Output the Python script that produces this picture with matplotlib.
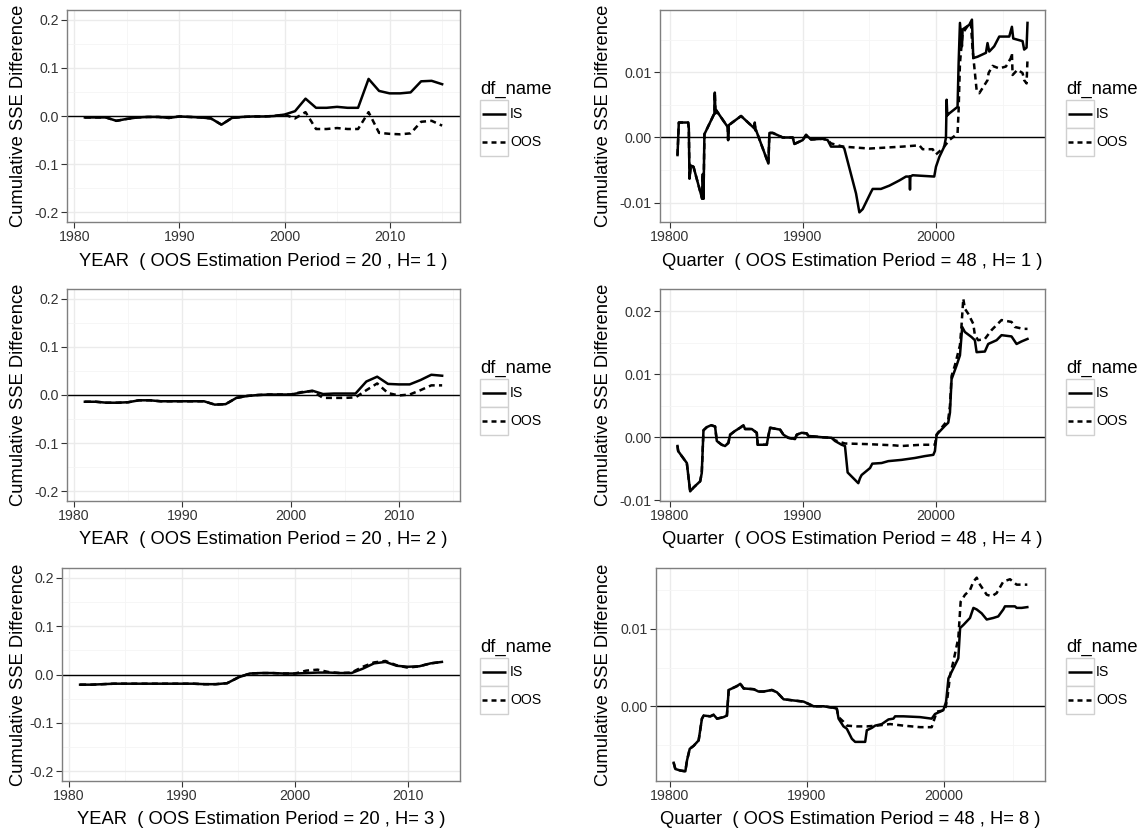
import matplotlib
matplotlib.use("Agg")
import matplotlib.pyplot as plt
from matplotlib.lines import Line2D
from matplotlib.patches import Rectangle
from matplotlib.ticker import MultipleLocator, FormatStrFormatter

plt.rcParams['font.family'] = ['Liberation Sans', 'DejaVu Sans']
plt.rcParams['axes.unicode_minus'] = False

W, H, DPI = 1143, 833, 100

series_names = ["IS", "OOS"]
legend_title = "df_name"
y_title = "Cumulative SSE Difference"

# ---- annual models (OOS estimation period = 20) ----
years_h1 = list(range(1981, 2016))
is_h1 = [-0.003, -0.003, -0.003, -0.010, -0.006, -0.003, -0.002, -0.002, -0.004, -0.001,
         -0.002, -0.003, -0.005, -0.018, -0.004, -0.002, -0.001, -0.001, 0.000, 0.003,
         0.010, 0.036, 0.017, 0.017, 0.019, 0.017, 0.017, 0.077, 0.052, 0.047,
         0.047, 0.049, 0.072, 0.073, 0.066]
oos_h1 = [-0.003, -0.003, -0.003, -0.010, -0.006, -0.003, -0.002, -0.002, -0.004, -0.001,
          -0.002, -0.003, -0.005, -0.018, -0.004, -0.002, -0.001, -0.001, 0.000, 0.003,
          -0.005, 0.008, -0.027, -0.027, -0.025, -0.027, -0.027, 0.008, -0.035, -0.037,
          -0.038, -0.036, -0.012, -0.010, -0.020]

years_h2 = list(range(1981, 2015))
is_h2 = [-0.014, -0.014, -0.016, -0.016, -0.015, -0.011, -0.011, -0.013, -0.013, -0.013,
         -0.013, -0.013, -0.020, -0.019, -0.006, -0.002, 0.000, 0.001, 0.001, 0.001,
         0.005, 0.009, 0.002, 0.003, 0.003, 0.003, 0.028, 0.038, 0.023, 0.022,
         0.022, 0.031, 0.042, 0.040]
oos_h2 = [-0.014, -0.014, -0.016, -0.016, -0.015, -0.011, -0.011, -0.013, -0.013, -0.013,
          -0.013, -0.013, -0.020, -0.019, -0.006, -0.002, 0.000, 0.001, 0.001, 0.001,
          0.006, 0.008, -0.006, -0.006, -0.006, -0.005, 0.010, 0.024, 0.004, -0.001,
          0.001, 0.010, 0.020, 0.020]

years_h3 = list(range(1981, 2014))
is_h3 = [-0.021, -0.021, -0.020, -0.019, -0.019, -0.019, -0.019, -0.019, -0.019, -0.019,
         -0.019, -0.020, -0.020, -0.018, -0.006, 0.002, 0.003, 0.003, 0.002, 0.002,
         0.003, 0.004, 0.004, 0.003, 0.003, 0.012, 0.023, 0.026, 0.018, 0.016,
         0.017, 0.023, 0.026]
oos_h3 = [-0.021, -0.021, -0.020, -0.019, -0.019, -0.019, -0.019, -0.019, -0.019, -0.019,
          -0.019, -0.020, -0.020, -0.018, -0.006, 0.002, 0.003, 0.003, 0.002, 0.002,
          0.008, 0.010, 0.005, 0.003, 0.004, 0.016, 0.025, 0.028, 0.019, 0.014,
          0.017, 0.023, 0.026]

# ---- quarterly models (OOS estimation period = 48), (quarter code, value) ----
q1_is = [(19806, -0.0027), (19807, 0.0023), (19814, 0.0023), (19814.5, 0.0014), (19815, -0.0063),
         (19816, -0.0043), (19818, -0.0045), (19824.5, -0.0094), (19825, -0.0056), (19825.5, -0.0094),
         (19826.2, 0.0005), (19833.7, 0.0037), (19834, 0.0069), (19834.5, 0.0037), (19835, 0.0042),
         (19843.7, 0.0016), (19844, -0.0004), (19844.5, 0.0019), (19853.7, 0.0033), (19863.7, 0.0014),
         (19864, 0.0023), (19864.5, 0.0011), (19865, 0.0011), (19874.2, -0.0040), (19875, 0.0007),
         (19877.5, 0.0007), (19885, 0.0), (19892.5, 0.0), (19893.7, -0.0010), (19900, -0.0004),
         (19902.5, 0.0004), (19906.2, -0.0003), (19915, -0.0002), (19918.7, -0.0004), (19921.2, -0.0014),
         (19930, -0.0014), (19931.2, -0.0017), (19940, -0.0086), (19942.5, -0.0115), (19945, -0.0110),
         (19951.2, -0.0084), (19952.5, -0.0079), (19958.7, -0.0079), (19965, -0.0074), (19972.5, -0.0066),
         (19977.5, -0.0060), (19980.2, -0.0060), (19980.5, -0.0080), (19980.8, -0.0060), (19982.5, -0.0058),
         (19998.7, -0.0060), (20000, -0.0045), (20002.5, -0.0030), (20006.2, -0.0014), (20007.5, 0.0),
         (20008, 0.0058), (20008.5, 0.0034), (20010, 0.0037), (20016.2, 0.0047), (20017, 0.0114),
         (20018, 0.0176), (20019.5, 0.0140), (20020, 0.0166), (20025, 0.0173), (20027, 0.0181),
         (20027.5, 0.0150), (20028, 0.0122), (20031.2, 0.0124), (20037.5, 0.0130), (20038.7, 0.0145),
         (20040, 0.0132), (20043.7, 0.0140), (20047.5, 0.0155), (20055, 0.0155), (20057, 0.0170),
         (20058, 0.0152), (20065, 0.0148), (20066.2, 0.0135), (20068, 0.0138), (20068.7, 0.0176)]
q1_oos = [(19806, -0.0027), (19807, 0.0023), (19814, 0.0023), (19814.5, 0.0014), (19815, -0.0063),
          (19816, -0.0043), (19818, -0.0045), (19824.5, -0.0094), (19825, -0.0056), (19825.5, -0.0094),
          (19826.2, 0.0005), (19833.7, 0.0037), (19834, 0.0069), (19834.5, 0.0037), (19835, 0.0042),
          (19843.7, 0.0016), (19844, -0.0004), (19844.5, 0.0019), (19853.7, 0.0033), (19863.7, 0.0014),
          (19864, 0.0023), (19864.5, 0.0011), (19865, 0.0011), (19874.2, -0.0040), (19875, 0.0007),
          (19877.5, 0.0007), (19885, 0.0), (19892.5, 0.0), (19893.7, -0.0010), (19900, -0.0004),
          (19902.5, 0.0004), (19906.2, -0.0003), (19915, -0.0002), (19918.7, -0.0004), (19921.2, -0.0009),
          (19930, -0.0014), (19950, -0.0017), (19975, -0.0014), (19987.5, -0.0012), (19990, -0.0018),
          (19997.5, -0.0018), (20000, -0.0026), (20005, -0.0017), (20010, -0.0004), (20016.2, 0.0006),
          (20017, 0.0042), (20018, 0.0114), (20020, 0.0160), (20023.7, 0.0171), (20026.2, 0.0176),
          (20027.5, 0.0135), (20028.7, 0.0110), (20030.5, 0.0073), (20032.5, 0.0068), (20035, 0.0076),
          (20038.7, 0.0088), (20039.5, 0.0099), (20042.5, 0.0110), (20047.5, 0.0106), (20052.5, 0.0109),
          (20056.2, 0.0122), (20057, 0.0130), (20057.5, 0.0096), (20061.2, 0.0104), (20065, 0.0099),
          (20066.2, 0.0088), (20068, 0.0083), (20068.7, 0.0120)]

q4_is = [(19806, -0.0014), (19806.5, -0.0022), (19809.2, -0.0030), (19813, -0.0041), (19815.5, -0.0086),
         (19818, -0.0080), (19823, -0.0070), (19824.2, -0.0057), (19825.5, 0.0011), (19828, 0.0016),
         (19831.2, 0.0019), (19834.2, 0.0017), (19835.5, -0.0006), (19839.2, -0.0012), (19841.7, -0.0014),
         (19844.2, -0.0009), (19845.5, 0.0004), (19849.2, 0.0010), (19853, 0.0015), (19855.5, 0.0019),
         (19856.7, 0.0013), (19861.7, 0.0013), (19865.5, 0.0007), (19866.2, -0.0012), (19873, -0.0012),
         (19874.2, 0.0002), (19875.5, 0.0015), (19883, 0.0012), (19885.5, 0.0004), (19889.2, -0.0001),
         (19894.2, -0.0003), (19895.5, 0.0004), (19899.2, 0.0007), (19903, 0.0006), (19904.2, 0.0002),
         (19914.2, 0.0), (19921.7, -0.0001), (19924.2, -0.0006), (19929.2, -0.0012), (19931.7, -0.0014),
         (19933.7, -0.0056), (19941.7, -0.0073), (19943, -0.0065), (19944.2, -0.0060), (19950.5, -0.0049),
         (19952.2, -0.0042), (19959.2, -0.0041), (19964.2, -0.0038), (19974.2, -0.0036), (19984.2, -0.0033),
         (19991.7, -0.0030), (19998, -0.0028), (19999.2, -0.0022), (20000.5, 0.0004), (20006.7, 0.0018),
         (20009.2, 0.0023), (20010.5, 0.0039), (20011.7, 0.0092), (20015.5, 0.0114), (20018, 0.0130),
         (20019.7, 0.0175), (20021.7, 0.0167), (20026.7, 0.0159), (20029.2, 0.0154), (20030.5, 0.0135),
         (20036.7, 0.0136), (20039.2, 0.0148), (20045.5, 0.0154), (20049.2, 0.0162), (20056.7, 0.0160),
         (20060.5, 0.0148), (20064.2, 0.0152), (20068.7, 0.0156)]
q4_oos = [(19806, -0.0014), (19806.5, -0.0022), (19809.2, -0.0030), (19813, -0.0041), (19815.5, -0.0086),
          (19818, -0.0080), (19823, -0.0070), (19824.2, -0.0057), (19825.5, 0.0011), (19828, 0.0016),
          (19831.2, 0.0019), (19834.2, 0.0017), (19835.5, -0.0006), (19839.2, -0.0012), (19841.7, -0.0014),
          (19844.2, -0.0009), (19845.5, 0.0004), (19849.2, 0.0010), (19853, 0.0015), (19855.5, 0.0019),
          (19856.7, 0.0013), (19861.7, 0.0013), (19865.5, 0.0007), (19866.2, -0.0012), (19873, -0.0012),
          (19874.2, 0.0002), (19875.5, 0.0015), (19883, 0.0012), (19885.5, 0.0004), (19889.2, -0.0001),
          (19894.2, -0.0003), (19895.5, 0.0004), (19899.2, 0.0007), (19903, 0.0006), (19904.2, 0.0002),
          (19914.2, 0.0), (19921.7, -0.0001), (19924.2, -0.0005), (19931.7, -0.0010), (19949, -0.0011),
          (19969, -0.0013), (19974, -0.0014), (19989, -0.0012), (19999.2, -0.0012), (20000.5, 0.0004),
          (20004.2, 0.0015), (20009.2, 0.0028), (20010.5, 0.0050), (20011.7, 0.0097), (20014.2, 0.0114),
          (20018, 0.0146), (20019.2, 0.0178), (20020.5, 0.0220), (20021.7, 0.0204), (20024.2, 0.0196),
          (20028, 0.0180), (20029.2, 0.0162), (20031.7, 0.0154), (20036.7, 0.0156), (20041.7, 0.0170),
          (20049.2, 0.0186), (20056.7, 0.0183), (20059.2, 0.0175), (20065.5, 0.0172), (20068.7, 0.0172)]

q8_is = [(19802.9, -0.0073), (19804.1, -0.0081), (19807.8, -0.0083), (19811.4, -0.0084), (19812.6, -0.0070),
         (19814.6, -0.0055), (19817.5, -0.0051), (19821.1, -0.0044), (19823.5, -0.0016), (19824.8, -0.0012),
         (19829.6, -0.0013), (19832, -0.0011), (19834.5, -0.0016), (19839.3, -0.0014), (19841.7, -0.0012),
         (19843, 0.0021), (19845.4, 0.0023), (19849, 0.0026), (19851.5, 0.0029), (19853.9, 0.0023),
         (19861.2, 0.0022), (19864.8, 0.0019), (19868.4, 0.0019), (19874.5, 0.0021), (19878.2, 0.0018),
         (19883, 0.0009), (19892.7, 0.0007), (19897.6, 0.0006), (19904.9, 0.0), (19912.1, 0.0),
         (19919.4, -0.0002), (19921.8, -0.0003), (19923.1, -0.0016), (19926.7, -0.0026), (19929.1, -0.0029),
         (19932.8, -0.0042), (19935.2, -0.0046), (19942.5, -0.0046), (19943.7, -0.0031), (19947.3, -0.0028),
         (19949.8, -0.0025), (19954.6, -0.0023), (19959.5, -0.0017), (19963.1, -0.0016), (19964.3, -0.0013),
         (19970.4, -0.0013), (19982.5, -0.0014), (19991, -0.0016), (19993.4, -0.0010), (19997.1, -0.0007),
         (19999.5, -0.0005), (20001.5, 0.0006), (20003.2, 0.0036), (20006.8, 0.0049), (20010.4, 0.0062),
         (20011.7, 0.0101), (20014.1, 0.0105), (20018.9, 0.0114), (20021.4, 0.0127), (20023.8, 0.0125),
         (20027.4, 0.0120), (20031.1, 0.0112), (20035.9, 0.0114), (20039.5, 0.0116), (20043.2, 0.0125),
         (20044.4, 0.0129), (20051.7, 0.0129), (20052.9, 0.0127), (20056.6, 0.0127), (20060.7, 0.0128)]
q8_oos = [(19802.9, -0.0073), (19804.1, -0.0081), (19807.8, -0.0083), (19811.4, -0.0084), (19812.6, -0.0070),
          (19814.6, -0.0055), (19817.5, -0.0051), (19821.1, -0.0044), (19823.5, -0.0016), (19824.8, -0.0012),
          (19829.6, -0.0013), (19832, -0.0011), (19834.5, -0.0016), (19839.3, -0.0014), (19841.7, -0.0012),
          (19843, 0.0021), (19845.4, 0.0023), (19849, 0.0026), (19851.5, 0.0029), (19853.9, 0.0023),
          (19861.2, 0.0022), (19864.8, 0.0019), (19868.4, 0.0019), (19874.5, 0.0021), (19878.2, 0.0018),
          (19883, 0.0009), (19892.7, 0.0007), (19897.6, 0.0006), (19904.9, 0.0), (19912.1, 0.0),
          (19919.4, -0.0002), (19921.8, -0.0003), (19923.1, -0.0014), (19926.7, -0.0020), (19929.1, -0.0025),
          (19936.4, -0.0026), (19943.7, -0.0026), (19951, -0.0025), (19960.7, -0.0023), (19970.4, -0.0025),
          (19982.5, -0.0027), (19991, -0.0027), (19994.7, -0.0007), (20000.7, -0.0005), (20002.4, 0.0010),
          (20004.4, 0.0040), (20006.8, 0.0058), (20010.4, 0.0088), (20012.1, 0.0135), (20015.3, 0.0144),
          (20018.9, 0.0150), (20021.4, 0.0161), (20023.8, 0.0166), (20026.2, 0.0157), (20031.1, 0.0144),
          (20034.7, 0.0142), (20038.3, 0.0146), (20043.2, 0.0161), (20048.1, 0.0164), (20052.9, 0.0157),
          (20060.7, 0.0157)]

x_titles = [
    "YEAR  ( OOS Estimation Period = 20 , H= 1 )",
    "Quarter  ( OOS Estimation Period = 48 , H= 1 )",
    "YEAR  ( OOS Estimation Period = 20 , H= 2 )",
    "Quarter  ( OOS Estimation Period = 48 , H= 4 )",
    "YEAR  ( OOS Estimation Period = 20 , H= 3 )",
    "Quarter  ( OOS Estimation Period = 48 , H= 8 )",
]

# panel boxes in pixels: left, right, top, bottom
boxes = [
    (67, 460, 10, 222), (660, 1045, 10, 222),
    (67, 460, 289, 501), (660, 1045, 289, 501),
    (62, 460, 568, 781), (656, 1045, 568, 781),
]

TICK_COL = "#333333"
BORDER_COL = "#7f7f7f"
MAJOR_GRID = "#ebebeb"
MINOR_GRID = "#f5f5f5"
LW = 1.8
DASH = (2.4, 1.7)

fig = plt.figure(figsize=(W / DPI, H / DPI), dpi=DPI)
fig.patch.set_facecolor("white")


def fx(px):
    return px / W


def fy(py):
    return 1 - py / H


def expand(lo, hi, frac=0.05):
    d = (hi - lo) * frac
    return lo - d, hi + d


def style_axes(ax, box, xmaj, xmin, ymaj, ymin, yfmt):
    ax.xaxis.set_major_locator(MultipleLocator(xmaj))
    ax.xaxis.set_minor_locator(MultipleLocator(xmin))
    ax.yaxis.set_major_locator(MultipleLocator(ymaj))
    ax.yaxis.set_minor_locator(MultipleLocator(ymin))
    ax.yaxis.set_major_formatter(FormatStrFormatter(yfmt))
    ax.xaxis.set_major_formatter(FormatStrFormatter("%d"))
    ax.grid(True, which="major", color=MAJOR_GRID, lw=1.0, zorder=0)
    ax.grid(True, which="minor", color=MINOR_GRID, lw=0.6, zorder=0)
    ax.set_axisbelow(True)
    ax.tick_params(which="major", length=4, width=0.8, color=TICK_COL,
                   labelcolor=TICK_COL, labelsize=10.2, pad=2)
    ax.tick_params(which="minor", length=0)
    for s in ax.spines.values():
        s.set_color(BORDER_COL)
        s.set_linewidth(1.0)


def draw_legend(x0, ytitle):
    fig.text(fx(x0), fy(ytitle), legend_title, fontsize=13.2, ha="left", va="center")
    ktop = ytitle + 11
    for i, name in enumerate(series_names):
        top = ktop + i * 28
        fig.patches.append(Rectangle((fx(x0), fy(top + 28)), 28 / W, 28 / H,
                                     transform=fig.transFigure, facecolor="white",
                                     edgecolor="#d0d0d0", lw=1.0))
        ln = Line2D([fx(x0 + 2), fx(x0 + 26)], [fy(top + 14)] * 2, transform=fig.transFigure,
                    color="black", lw=LW, solid_capstyle="butt", dash_capstyle="butt")
        if i == 1:
            ln.set_dashes((2.0, 1.6))
        fig.lines.append(ln)
        fig.text(fx(x0 + 30), fy(top + 14), name, fontsize=10.2, ha="left", va="center")


annual = [(years_h1, is_h1, oos_h1), (years_h2, is_h2, oos_h2), (years_h3, is_h3, oos_h3)]
quarterly = [(q1_is, q1_oos), (q4_is, q4_oos), (q8_is, q8_oos)]

for row in range(3):
    for col in range(2):
        k = row * 2 + col
        l, r, t, b = boxes[k]
        ax = fig.add_axes([fx(l), fy(b), (r - l) / W, (b - t) / H])
        if col == 0:
            yrs, s_is, s_oos = annual[row]
            ax.plot(yrs, s_is, color="black", lw=LW, solid_joinstyle="round", zorder=3)
            ax.plot(yrs, s_oos, color="black", lw=LW, dashes=DASH, zorder=3)
            ax.set_xlim(*expand(min(yrs), max(yrs)))
            ax.set_ylim(*expand(-0.2, 0.2))
            style_axes(ax, boxes[k], 10, 5, 0.1, 0.05, "%.1f")
        else:
            s_is, s_oos = quarterly[row]
            xi, yi = zip(*s_is)
            xo, yo = zip(*s_oos)
            ax.plot(xi, yi, color="black", lw=LW, solid_joinstyle="round", zorder=3)
            ax.plot(xo, yo, color="black", lw=LW, dashes=DASH, zorder=3)
            allx = list(xi) + list(xo)
            ally = list(yi) + list(yo)
            ax.set_xlim(*expand(min(allx), max(allx)))
            ax.set_ylim(*expand(min(ally), max(ally)))
            style_axes(ax, boxes[k], 100, 50, 0.01, 0.005, "%.2f")
        ax.axhline(0, color="black", lw=1.0, zorder=2)

        # axis titles
        ylab_x = 19 if col == 0 else 604
        fig.text(fx(ylab_x), fy((t + b) / 2), y_title, rotation=90, fontsize=13.2,
                 ha="center", va="center")
        fig.text(fx((l + r) / 2), fy(b + 39), x_titles[k], fontsize=13.2,
                 ha="center", va="center")

        # legend to the right of each panel
        leg_x = 480 if col == 0 else 1066
        draw_legend(leg_x, 89 + row * 279)

fig.savefig("out.png", dpi=DPI, facecolor="white")
